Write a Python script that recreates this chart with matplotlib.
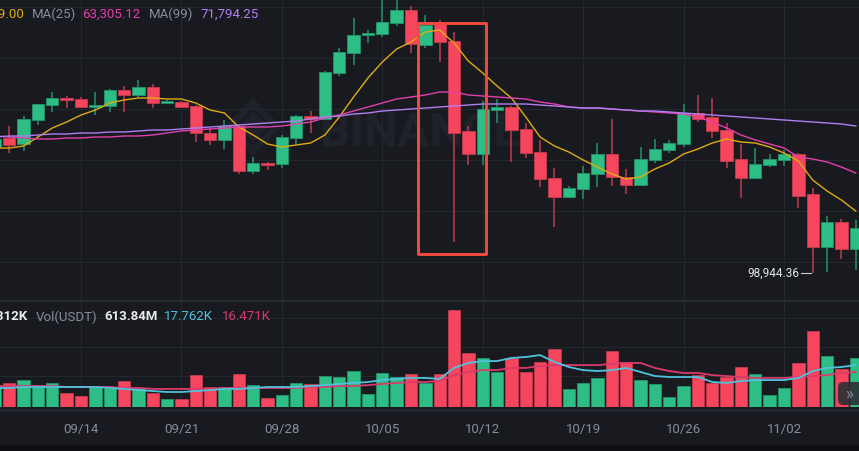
import numpy as np
import pandas as pd
import matplotlib
matplotlib.use("Agg")
import matplotlib.pyplot as plt
from matplotlib.patches import Rectangle, Polygon, FancyBboxPatch
from matplotlib.lines import Line2D
from matplotlib.transforms import blended_transform_factory

plt.rcParams['font.family'] = ['Roboto', 'DejaVu Sans']

# daily candles 09/08 .. 11/07
dates = pd.date_range("2025-09-08", "2025-11-07").strftime("%m/%d").tolist()
tick_dates = ["09/14", "09/21", "09/28", "10/05", "10/12", "10/19", "10/26", "11/02"]

opens = [111275, 112157, 111569, 113922, 115392, 116079, 115981, 115196, 115294, 116863,
         116373, 117157, 115588, 115686, 115294, 112647, 111961, 113333, 108922, 109706,
         109608, 112157, 114314, 114020, 118530, 120490, 122255, 122353, 123432, 124706,
         121275, 123432, 121667, 112843, 110588, 114902, 115196, 113039, 110784, 108235,
         106373, 107157, 108628, 110588, 108333, 107549, 110000, 110980, 111569, 114608,
         114216, 112941, 110098, 108235, 109510, 110000, 110588, 106667, 101471, 103922,
         101275]
highs = [112353, 113333, 114314, 115490, 116667, 116275, 116177, 116667, 116961, 117255,
         117843, 117451, 115882, 115784, 115392, 113137, 113922, 113431, 110294, 109804,
         112451, 114412, 114804, 118726, 120981, 123922, 122745, 125883, 126275, 125098,
         124216, 123726, 122549, 113333, 115784, 115981, 115294, 113628, 111961, 109216,
         107451, 109412, 111667, 114020, 109118, 111275, 112059, 111961, 115490, 116373,
         116079, 113628, 111569, 111177, 110588, 110980, 110686, 107255, 104510, 104216,
         104118]
lows = [110980, 110686, 110882, 113431, 114706, 115098, 115098, 114412, 114706, 114706,
        116177, 115098, 115490, 115098, 111765, 111471, 111079, 108628, 108628, 109020,
        109216, 111569, 112647, 113922, 118235, 119314, 121471, 122059, 123137, 120490,
        120981, 119608, 101961, 109510, 109510, 113628, 109804, 110196, 107353, 103431,
        106275, 106177, 107353, 107451, 106667, 107451, 109706, 110686, 111275, 113726,
        112157, 109216, 106275, 108180, 109314, 109412, 105294, 98944.36, 99020, 100294,
        99216]
closes = [112059, 111471, 114020, 115490, 116079, 115882, 115196, 115392, 116863, 116373,
          117157, 115588, 115686, 115196, 112647, 111961, 113333, 108922, 109706, 109510,
          112255, 114314, 114020, 118628, 120588, 122255, 122451, 123530, 124706, 121373,
          123235, 121569, 112647, 110588, 115000, 115196, 112941, 110686, 108137, 106373,
          107255, 108726, 110588, 108333, 107549, 110098, 111079, 111667, 114608, 114020,
          112843, 109902, 108235, 109608, 110098, 110588, 106471, 101471, 103922, 101275,
          103333]

ma7 = [111177, 111177, 111373, 112255, 113137, 113726, 114412, 114902, 115588, 115882,
       116079, 116079, 115981, 115981, 115588, 114902, 114608, 113235, 112451, 111569,
       111275, 111471, 111667, 112451, 114216, 116177, 118039, 119608, 120883, 121569,
       122549, 122745, 121471, 119706, 118530, 117255, 116079, 114216, 112255, 111373,
       110784, 110000, 109314, 108628, 108137, 108333, 109118, 109706, 110588, 111079,
       111667, 112059, 111765, 111667, 111275, 110686, 109902, 108039, 106961, 106078,
       105000]
ma25 = [112353, 112255, 112157, 112059, 112059, 112157, 112157, 112255, 112255, 112353,
        112353, 112451, 112647, 112843, 112941, 113039, 113137, 113235, 113235, 113235,
        113333, 113530, 113726, 114118, 114412, 114804, 115196, 115588, 115981, 116177,
        116373, 116667, 116667, 116373, 116275, 116177, 116079, 115981, 115686, 115490,
        115196, 115098, 115098, 115000, 114902, 114804, 114706, 114608, 114510, 114216,
        113726, 113137, 112451, 111961, 111569, 111177, 110294, 110098, 109804, 109314,
        108726]
ma99 = [112255, 112353, 112353, 112451, 112549, 112549, 112647, 112647, 112745, 112745,
        112843, 112941, 112941, 113039, 113137, 113235, 113333, 113431, 113530, 113628,
        113726, 113824, 114020, 114216, 114314, 114510, 114608, 114804, 114902, 115000,
        115098, 115196, 115294, 115392, 115490, 115490, 115490, 115490, 115392, 115294,
        115196, 115098, 115098, 115000, 114902, 114804, 114804, 114706, 114608, 114510,
        114412, 114314, 114216, 114118, 114020, 113922, 113824, 113726, 113628, 113530,
        113333]

# volume, thousands of BTC
volumes = [9.2, 10.1, 11.3, 9.2, 10.1, 5.9, 4.6, 8.4, 8.0, 10.9,
           8.0, 5.9, 3.4, 3.4, 13.4, 8.4, 8.4, 13.9, 9.2, 3.8,
           5.0, 10.1, 9.7, 13.0, 12.6, 15.1, 5.5, 14.3, 12.6, 13.9,
           10.1, 13.9, 40.7, 22.7, 20.6, 14.7, 20.6, 14.7, 18.9, 24.4,
           7.6, 10.1, 12.2, 23.5, 18.9, 11.3, 9.7, 4.2, 8.8, 13.4,
           10.1, 12.6, 16.8, 13.9, 5.0, 8.0, 18.5, 31.9, 21.4, 16.0,
           20.6]
vol_ma5 = [8.0, 8.0, 8.4, 8.4, 8.4, 8.4, 8.4, 8.4, 8.0, 7.6,
           7.1, 6.7, 6.3, 6.3, 6.7, 7.1, 7.6, 7.6, 8.0, 8.4,
           8.4, 8.4, 8.8, 9.2, 9.7, 10.1, 10.5, 11.3, 11.8, 12.2,
           12.2, 11.8, 16.4, 18.5, 19.3, 19.3, 20.6, 21.0, 21.8, 18.9,
           16.8, 15.5, 15.1, 15.5, 16.4, 14.7, 13.0, 12.6, 12.6, 12.6,
           10.5, 10.1, 10.9, 11.3, 11.3, 11.3, 12.2, 15.1, 16.4, 16.8,
           17.6]
vol_ma10 = [8.8, 8.8, 8.8, 8.8, 8.8, 8.4, 8.4, 8.4, 8.4, 8.0,
            8.0, 7.6, 7.6, 7.6, 7.6, 7.6, 8.0, 8.0, 8.0, 8.0,
            8.0, 8.0, 8.4, 8.4, 8.8, 8.8, 9.2, 9.7, 10.1, 10.5,
            10.5, 10.9, 13.4, 14.7, 15.5, 15.5, 16.4, 16.4, 17.2, 17.6,
            17.6, 17.6, 17.6, 18.1, 18.5, 18.5, 16.4, 15.1, 14.3, 14.3,
            13.4, 13.0, 12.6, 12.2, 12.2, 12.2, 12.6, 13.0, 13.4, 14.3,
            14.7]

BG = '#181a20'
GRID = '#23272e'
UP, DOWN = '#2ebd85', '#f6465d'
UP_EDGE, DOWN_EDGE = '#22946a', '#c43a4e'
MUTED = '#848e9c'

W, H = 859, 451
fig = plt.figure(figsize=(W / 100, H / 100), dpi=100, facecolor=BG)


def fy(px):
    return 1 - px / H


x = np.arange(len(dates))
o, h, l, c = map(np.array, (opens, highs, lows, closes))
up = c >= o
body_col = np.where(up, UP, DOWN)
edge_col = np.where(up, UP_EDGE, DOWN_EDGE)
ticks = [dates.index(t) for t in tick_dates]
xlim = (0.354, 60.227)

# ---- price panel
ax = fig.add_axes([0, fy(300), 1, 300 / H])
ax.set_facecolor(BG)
ax.vlines(x, l, h, colors=edge_col, linewidth=1.1, zorder=2)
ax.bar(x, np.maximum(np.abs(c - o), 150), bottom=np.minimum(o, c), width=0.86,
       color=body_col, edgecolor=edge_col, linewidth=0.6, zorder=3)
ax.plot(x, ma7, color='#e0ac12', lw=1.0, zorder=4)
ax.plot(x, ma25, color='#e23fae', lw=1.0, zorder=4)
ax.plot(x, ma99, color='#b07ef2', lw=1.0, zorder=4)

# watermark
ax.text(420 / W, 1 - 133 / 300, "BINANCE", transform=ax.transAxes, fontsize=34,
        fontweight='bold', color='#1f2228', ha='center', va='center', zorder=0.5)
cx, cy, r = 253, 127, 24
for rr, fill in [(r, False), (r * 0.45, True)]:
    verts = [((cx) / 100, (H - cy + rr) / 100), ((cx + rr) / 100, (H - cy) / 100),
             ((cx) / 100, (H - cy - rr) / 100), ((cx - rr) / 100, (H - cy) / 100)]
    ax.add_patch(Polygon(verts, closed=True, fill=fill, facecolor='#1f2228',
                         edgecolor='#1f2228', lw=5, transform=fig.dpi_scale_trans, zorder=0.5))

# highlighted crash candles
span = ("10/08", "10/12")
x0, x1 = dates.index(span[0]) - 0.5, dates.index(span[1]) + 0.25
box_top, box_bottom = 123400, 100800
ax.add_patch(Rectangle((x0, box_bottom), x1 - x0, box_top - box_bottom, fill=False,
                       edgecolor='#f24b3f', lw=2.1, joinstyle='round', zorder=6))

# lowest price marker
i_low = int(np.argmin(l))
ax.plot([i_low - 0.85, i_low - 0.1], [l[i_low]] * 2, color='#c9ced4', lw=0.8, zorder=5)
ax.text(i_low - 0.95, l[i_low], f"{l[i_low]:,.2f}", ha='right', va='center',
        fontsize=8.5, color='#e2e5e9', zorder=5)

ax.set_xlim(xlim)
ax.set_ylim(96275, 125686)
ax.set_yticks([100000, 105000, 110000, 115000, 120000, 125000])
ax.set_xticks(ticks)
ax.grid(True, color=GRID, lw=0.8)
ax.set_axisbelow(True)
ax.tick_params(length=0, labelbottom=False, labelleft=False)
for s in ax.spines.values():
    s.set_visible(False)

# ---- volume panel
axv = fig.add_axes([0, fy(407), 1, 107 / H])
axv.set_facecolor(BG)
axv.bar(x, volumes, width=0.86, color=body_col, edgecolor=edge_col, linewidth=0.6, zorder=3)
axv.plot(x, vol_ma10, color='#d93a6a', lw=1.3, zorder=4)
axv.plot(x, vol_ma5, color='#4fc3dc', lw=1.3, zorder=4)
axv.set_xlim(xlim)
axv.set_ylim(0, 44.94)
axv.set_yticks([13.0, 25.2, 37.4])
axv.set_xticks(ticks)
axv.grid(True, color=GRID, lw=0.8)
axv.set_axisbelow(True)
axv.tick_params(length=0, labelbottom=False, labelleft=False)
for s in axv.spines.values():
    s.set_visible(False)

tr = blended_transform_factory(axv.transData, axv.transAxes)
for t, lab in zip(ticks, tick_dates):
    axv.text(t, -(429 - 407) / 107, lab, transform=tr, ha='center', va='center',
             fontsize=9.5, color=MUTED, clip_on=False)

# separators and bottom strip
fig.add_artist(Line2D([0, 1], [fy(300.5)] * 2, color='#2b2f36', lw=1.2))
fig.add_artist(Line2D([0, 1], [fy(410)] * 2, color='#2b2f36', lw=1.0))
fig.add_artist(Rectangle((0, 0), 1, 6 / H, transform=fig.transFigure, color='#0e1014', zorder=1))

# legends (cut at the left edge, as in the original screenshot)
fs = 9.5
fig.text(24 / W, fy(14), "MA(7) 118,849.00", color='#e0ac12', fontsize=fs, ha='right', va='center')
fig.text(32 / W, fy(14), "MA(25)", color=MUTED, fontsize=fs, va='center')
fig.text(82 / W, fy(14), "63,305.12", color='#e23fae', fontsize=fs, va='center')
fig.text(149 / W, fy(14), "MA(99)", color=MUTED, fontsize=fs, va='center')
fig.text(200 / W, fy(14), "71,794.25", color='#b07ef2', fontsize=fs, va='center')

fig.text(27 / W, fy(317), "Vol(BTC) 5.312K", color='#eaecef', fontsize=fs, ha='right',
         va='center', fontweight='bold')
fig.text(36 / W, fy(317), "Vol(USDT)", color=MUTED, fontsize=fs, va='center')
fig.text(104 / W, fy(317), "613.84M", color='#eaecef', fontsize=fs, va='center', fontweight='bold')
fig.text(164 / W, fy(317), "17.762K", color='#4fc3dc', fontsize=fs, va='center')
fig.text(222 / W, fy(317), "16.471K", color='#d93a6a', fontsize=fs, va='center')

# scroll button
fig.add_artist(FancyBboxPatch((838 / 100, (H - 405) / 100), 0.3, 0.23,
                              boxstyle="round,pad=0,rounding_size=0.05",
                              transform=fig.dpi_scale_trans, facecolor='#2b2f36',
                              edgecolor='none', alpha=0.9, zorder=5))
fig.text(849 / W, fy(394), "»", color=MUTED, fontsize=12, ha='center', va='center', zorder=6)

fig.savefig("out.png", dpi=100, facecolor=BG)
